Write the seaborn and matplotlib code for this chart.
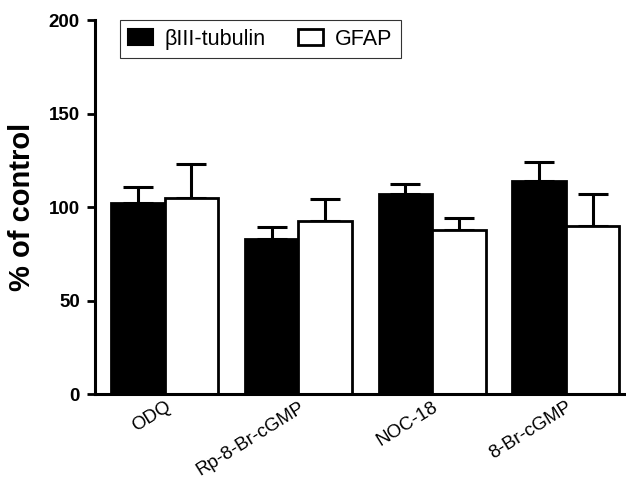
import numpy as np
import pandas as pd
import matplotlib
matplotlib.use('Agg')
import matplotlib.pyplot as plt
import seaborn as sns
from matplotlib.patches import Patch

categories = ['ODQ', 'Rp-8-Br-cGMP', 'NOC-18', '8-Br-cGMP']
markers = ['\u03b2III-tubulin', 'GFAP']
tubulin_mean = [102, 83, 107, 114]
tubulin_sem = [9, 6.5, 5.5, 10]
gfap_mean = [105, 92.5, 88, 90]
gfap_sem = [18, 12, 6, 17]
yticks = [0, 50, 100, 150, 200]

sns.set_style('ticks')
plt.rcParams['font.family'] = ['Liberation Sans', 'DejaVu Sans']
plt.rcParams.update({'text.color': 'black', 'axes.labelcolor': 'black',
                     'xtick.color': 'black', 'ytick.color': 'black',
                     'axes.edgecolor': 'black'})

df = pd.DataFrame({
    'treatment': categories * 2,
    'marker': [markers[0]] * 4 + [markers[1]] * 4,
    'value': tubulin_mean + gfap_mean,
    'sem': tubulin_sem + gfap_sem,
})

fig = plt.figure(figsize=(6.26, 4.8), dpi=100)
ax = fig.add_axes([0.152, 0.179, 0.848, 0.779])

sns.barplot(data=df, x='treatment', y='value', hue='marker', order=categories,
            hue_order=markers, palette=['black', 'white'], errorbar=None,
            edgecolor='black', linewidth=2, width=0.8, ax=ax, legend=False)

# upper-only error bars, drawn under the bars so the lower cap is hidden
for bars, means, sems in zip(ax.containers, [tubulin_mean, gfap_mean], [tubulin_sem, gfap_sem]):
    xs = [b.get_x() + b.get_width() / 2 for b in bars]
    ax.errorbar(xs, means, yerr=[np.zeros(len(sems)), sems], fmt='none',
                ecolor='black', elinewidth=2.2, capsize=11, capthick=2.2, zorder=0.5)

ax.set_ylim(0, 200)
ax.set_yticks(yticks)
ax.set_xlim(-0.52, 3.45)
ax.set_xlabel('')
ax.set_ylabel('% of control', fontsize=21, fontweight='bold', labelpad=9)

for lbl in ax.get_yticklabels():
    lbl.set_fontsize(13.5)
    lbl.set_fontweight('bold')
ax.set_xticks(range(len(categories)))
ax.set_xticklabels(categories, rotation=32, ha='right', va='top',
                   rotation_mode='anchor', fontsize=13.5)
ax.tick_params(axis='x', length=0, pad=3)
ax.tick_params(axis='y', length=6, width=2, pad=5)

sns.despine(ax=ax)
ax.spines['left'].set_linewidth(2.2)
ax.spines['bottom'].set_linewidth(2.2)

handles = [Patch(facecolor='black', edgecolor='black', linewidth=1.5),
           Patch(facecolor='white', edgecolor='black', linewidth=2)]
leg = ax.legend(handles, markers, loc='upper left', bbox_to_anchor=(0.046, 1.0),
                ncol=2, fontsize=15.5, frameon=True, fancybox=False, edgecolor='black',
                handlelength=1.15, handleheight=0.75, handletextpad=0.55,
                columnspacing=1.5, borderpad=0.4, borderaxespad=0)
leg.get_frame().set_linewidth(0.8)

fig.savefig('out.png', dpi=100)
